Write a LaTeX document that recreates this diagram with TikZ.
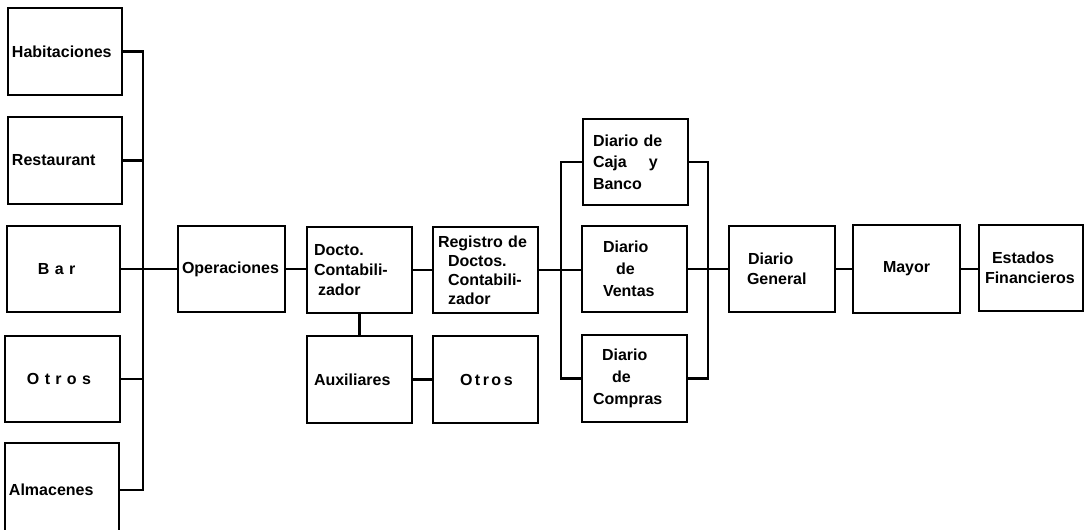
\documentclass[tikz,border=0pt]{standalone}
\usepackage{fontspec}
\setmainfont{Liberation Sans}
\begin{document}
\begin{tikzpicture}[x=1pt,y=-1pt,
  box/.style={draw, line width=2.2pt, inner xsep=4pt, inner ysep=0pt, align=left,
    font=\bfseries\fontsize{16}{20}\selectfont},
  conn/.style={line width=2.2pt}]
\useasboundingbox (0,0) rectangle (1090,530);
\clip (0,0) rectangle (1090,530);
% left column
\node[box, minimum width=114pt, minimum height=87pt, text width=106pt] (hab) at (65,51.5) {Habitaciones};
\node[box, minimum width=114pt, minimum height=87pt, text width=106pt] (rest) at (65,160.5) {Restaurant};
\node[box, minimum width=113pt, minimum height=86pt, text width=105pt] (bar) at (63.5,269) {\hspace*{27pt}B a r};
\node[box, minimum width=115pt, minimum height=86pt, text width=107pt] (otros1) at (62.5,379) {\hspace*{18pt}O t r o s};
\node[box, minimum width=114pt, minimum height=94pt, text width=106pt] (alm) at (62,490) {Almacenes};
\coordinate (lbus) at (143,0);
% middle
\node[box, minimum width=107pt, minimum height=86pt, text width=99pt] (ops) at (231.5,269) {Operaciones};
\node[box, minimum width=105pt, minimum height=86pt, text width=97pt] (docto) at (359.5,270)
  {\hspace*{3pt}Docto.\\\hspace*{3pt}Contabili-\\\hspace*{7pt}zador};
\node[box, minimum width=105pt, minimum height=86pt, text width=97pt, font=\bfseries\fontsize{16}{19}\selectfont] (reg) at (485.5,270)
  {\hspace*{1pt}Registro de\\\hspace*{11pt}Doctos.\\\hspace*{11pt}Contabili-\\\hspace*{11pt}zador};
\node[box, minimum width=105pt, minimum height=87pt, text width=97pt] (aux) at (359.5,379.5) {\hspace*{3pt}Auxiliares};
\node[box, minimum width=105pt, minimum height=87pt, text width=97pt] (otros2) at (485.5,379.5)
  {\hspace*{23pt}O\hspace{2.5pt}t\hspace{2.5pt}r\hspace{2.5pt}o\hspace{2.5pt}s};
% diarios
\node[box, minimum width=105pt, minimum height=86pt, text width=97pt, font=\bfseries\fontsize{16}{21.5}\selectfont] (caja) at (635.5,162)
  {\hspace*{6pt}Diario de\\\hspace*{6pt}Caja\hspace{22pt}y\\\hspace*{6pt}Banco};
\node[box, minimum width=105pt, minimum height=86pt, text width=97pt, font=\bfseries\fontsize{16}{22}\selectfont] (ventas) at (634.5,269)
  {\hspace*{17pt}Diario\\\hspace*{30pt}de\\\hspace*{17pt}Ventas};
\node[box, minimum width=105pt, minimum height=87pt, text width=97pt, font=\bfseries\fontsize{16}{22}\selectfont] (compras) at (634.5,378.5)
  {\hspace*{16pt}Diario\\\hspace*{26pt}de\\\hspace*{7pt}Compras};
\coordinate (cbusL) at (561,0);
\coordinate (cbusR) at (708,0);
% right
\node[box, minimum width=106pt, minimum height=86pt, text width=98pt] (dgen) at (782,269)
  {\hspace*{15pt}Diario\\\hspace*{14pt}General};
\node[box, minimum width=107pt, minimum height=88pt, text width=99pt] (mayor) at (906.5,269) {\hspace*{26pt}Mayor};
\node[box, minimum width=104pt, minimum height=86pt, text width=96pt] (estados) at (1031,268)
  {\hspace*{9pt}Estados\\\hspace*{2pt}Financieros};
% connectors
\draw[conn] (hab.east) -- (hab.east -| lbus) -- (alm.east -| lbus) -- (alm.east);
\draw[conn] (rest.east) -- (rest.east -| lbus);
\draw[conn] (otros1.east) -- (otros1.east -| lbus);
\draw[conn] (bar.east) -- (ops.west);
\draw[conn] (ops.east) -- (ops.east -| docto.west);
\draw[conn] (docto.east) -- (docto.east -| reg.west);
\draw[conn] (docto.south) -- (aux.north);
\draw[conn] (aux.east) -- (otros2.west);
\draw[conn] (reg.east) -- (reg.east -| ventas.west);
\draw[conn] (caja.west) -- (caja.west -| cbusL) -- (compras.west -| cbusL) -- (compras.west);
\draw[conn] (caja.east) -- (caja.east -| cbusR) -- (compras.east -| cbusR) -- (compras.east);
\draw[conn] (ventas.east) -- (dgen.west);
\draw[conn] (dgen.east) -- (mayor.west);
\draw[conn] (mayor.east) -- (mayor.east -| estados.west);
\end{tikzpicture}
\end{document}
